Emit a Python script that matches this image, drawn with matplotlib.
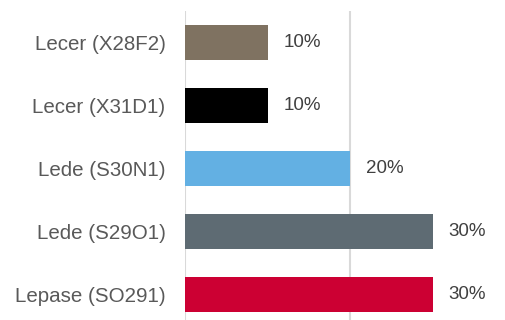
import matplotlib
matplotlib.use("Agg")
import matplotlib.pyplot as plt

categories = ["Lecer (X28F2)", "Lecer (X31D1)", "Lede (S30N1)", "Lede (S29O1)", "Lepase (SO291)"]
values = [10, 10, 20, 30, 30]
colors = ["#7f7261", "#000000", "#63b0e3", "#5e6b73", "#cc0033"]

plt.rcParams['font.family'] = ['Liberation Sans', 'DejaVu Sans']

fig = plt.figure(figsize=(5.06, 3.2), dpi=100)
ax = fig.add_axes([185/506, -6/320, 330/506, 315/320])

ypos = list(range(len(categories)))
ax.barh(ypos, values, height=0.555, color=colors, zorder=3)
ax.set_ylim(len(categories) - 0.5, -0.5)
ax.set_xlim(0, 40)
ax.set_yticks(ypos)
ax.set_yticklabels(categories, fontsize=14.8, color="#595959")
ax.tick_params(axis='y', length=0, pad=14)
ax.set_xticks([0, 20, 40])
ax.tick_params(axis='x', length=0, labelbottom=False)
ax.xaxis.grid(True, color="#d9d9d9", linewidth=1.5, zorder=0)
for s in ax.spines.values():
    s.set_visible(False)

for y, v in zip(ypos, values):
    ax.text(v + 1.95, y, f"{v}%", va='center', ha='left', fontsize=13.5, color="#404040")

fig.savefig("out.png", dpi=100)
